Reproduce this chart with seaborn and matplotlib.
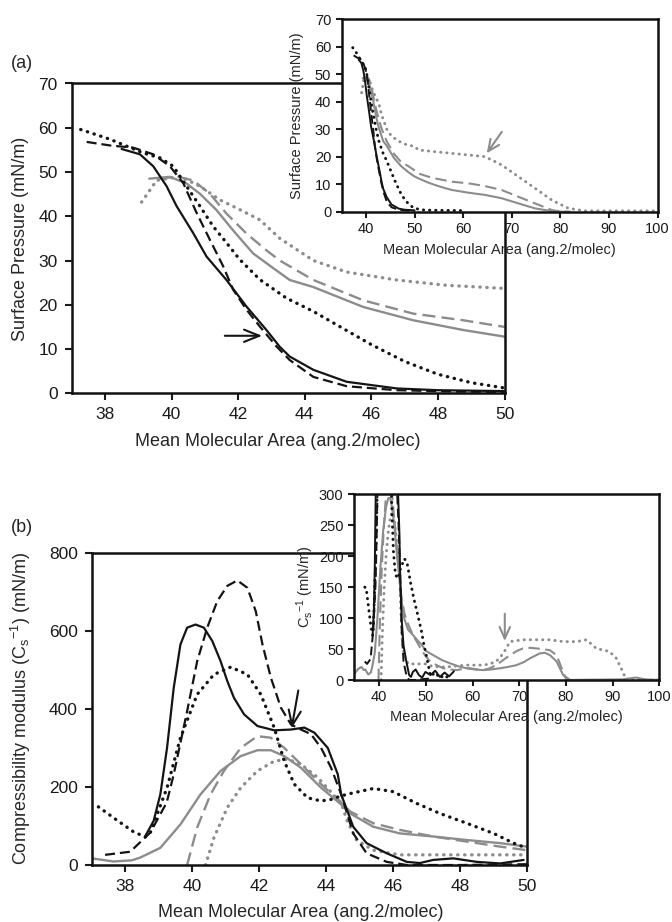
import numpy as np
import pandas as pd
import matplotlib
matplotlib.use("Agg")
import matplotlib.pyplot as plt
import seaborn as sns

# ---------------- Panel (a): surface pressure isotherms (main, 37-50) ----------------
a_bs_x = [38.5, 39.05, 39.45, 39.85, 40.15, 40.65, 41.05, 41.65, 42.25, 42.85, 43.25, 43.55, 44.26, 45.26, 46.76, 48.0, 50.0]
a_bs_y = [55.2, 54.0, 51.3, 46.8, 42.3, 36.2, 30.9, 25.6, 19.6, 14.3, 10.5, 8.3, 5.3, 2.6, 1.1, 0.7, 0.5]
a_bd_x = [37.45, 38.15, 38.85, 39.45, 39.95, 40.35, 40.75, 41.15, 41.55, 41.85, 42.25, 42.65, 43.15, 43.55, 44.26, 45.26, 46.76, 48.5, 50.0]
a_bd_y = [56.8, 56.0, 55.5, 54.0, 51.3, 47.5, 40.8, 34.7, 28.7, 23.4, 18.9, 15.1, 10.6, 7.5, 3.7, 1.6, 0.7, 0.4, 0.3]
a_bo_x = [37.27, 38.15, 39.15, 39.65, 40.05, 40.45, 40.85, 41.25, 41.65, 42.05, 42.65, 43.45, 44.26, 45.0, 46.0, 47.0, 48.0, 49.0, 50.0]
a_bo_y = [59.6, 57.4, 54.3, 53.2, 51.3, 46.8, 42.3, 37.7, 34.0, 30.2, 25.7, 21.5, 18.5, 15.3, 11.0, 7.2, 4.3, 2.4, 1.2]
a_gs_x = [39.33, 39.95, 40.45, 40.85, 41.35, 41.85, 42.45, 43.05, 43.55, 44.26, 45.76, 47.26, 48.76, 50.0]
a_gs_y = [48.5, 48.9, 47.4, 45.1, 41.4, 36.8, 31.6, 28.3, 25.6, 24.0, 19.5, 16.5, 14.3, 12.8]
a_gd_x = [39.65, 40.15, 40.65, 41.15, 41.65, 42.25, 42.85, 43.25, 44.26, 45.76, 47.26, 48.76, 50.0]
a_gd_y = [48.5, 49.0, 48.1, 45.1, 40.6, 36.1, 32.3, 30.0, 25.6, 21.0, 18.0, 16.5, 15.0]
a_go_x = [39.1, 39.55, 40.25, 40.85, 41.45, 42.05, 42.65, 43.25, 44.26, 45.26, 46.76, 48.26, 50.0]
a_go_y = [43.2, 48.1, 49.0, 46.8, 43.7, 41.5, 39.2, 35.0, 30.0, 27.4, 25.6, 24.4, 23.7]

# inset (a): continuation of the same isotherms beyond 50
ia_bo_ext_x = [52.0, 55.0, 60.0]
ia_bo_ext_y = [0.6, 0.5, 0.4]
ia_gs_ext_x = [50.8, 52.5, 54.2, 56.0, 57.65, 61.1, 64.5, 67.9, 71.4, 74.8, 78.25, 80.0, 82.0]
ia_gs_ext_y = [12.1, 10.8, 9.7, 8.7, 7.9, 6.9, 6.1, 4.9, 3.0, 1.2, 0.2, 0.0, 0.0]
ia_gd_ext_x = [50.8, 52.5, 54.2, 57.65, 61.1, 64.5, 67.9, 71.4, 74.8, 78.25, 80.3, 82.0]
ia_gd_ext_y = [13.9, 12.9, 12.1, 10.9, 10.3, 9.3, 7.9, 5.4, 3.0, 0.6, 0.0, 0.0]
ia_go_ext_x = [50.8, 54.2, 57.65, 61.1, 64.5, 67.9, 71.4, 74.8, 78.25, 81.7, 85.1, 90.0, 100.0]
ia_go_ext_y = [22.4, 21.8, 21.2, 20.6, 20.0, 17.0, 12.7, 8.5, 4.2, 1.2, 0.3, 0.3, 0.3]

# ---------------- Panel (b): compressibility modulus (main, 37-50) ----------------
b_bs_x = [38.6, 38.85, 39.05, 39.25, 39.45, 39.65, 39.85, 40.1, 40.35, 40.6, 40.85, 41.05, 41.25, 41.55, 41.95,
          42.45, 42.95, 43.35, 43.65, 44.05, 44.35, 44.45, 44.81, 45.21, 45.81, 46.41, 46.8, 47.2, 47.8, 48.5, 49.2, 49.9]
b_bs_y = [74, 113, 181, 300, 454, 565, 608, 616, 608, 574, 522, 471, 428, 386, 356,
          345, 347, 352, 339, 300, 232, 181, 98, 56, 30, 8, 5, 13, 17, 8, 4, 13]
b_bd_x = [37.4, 38.15, 38.75, 39.24, 39.45, 39.85, 40.15, 40.45, 40.75, 41.05, 41.35, 41.65, 41.9, 42.1, 42.35,
          42.65, 42.95, 43.25, 43.55, 43.85, 44.15, 44.45, 44.81, 45.21, 45.81, 46.41, 48.0, 50.0]
b_bd_y = [26, 34, 83, 160, 232, 394, 522, 608, 676, 715, 729, 710, 650, 565, 480,
          403, 360, 347, 335, 300, 249, 181, 81, 30, 8, 0, 0, 2]
b_bo_x = [37.2, 37.75, 38.25, 38.6, 38.75, 39.25, 39.65, 40.15, 40.65, 41.15, 41.65, 42.05, 42.45, 42.75, 43.05,
          43.45, 43.85, 44.15, 44.45, 44.72, 45.41, 46.0, 46.7, 47.4, 48.2, 49.0, 49.6, 50.0]
b_bo_y = [149, 115, 85, 72, 83, 198, 326, 437, 488, 507, 488, 437, 352, 266, 207,
          172, 164, 168, 177, 183, 196, 188, 158, 132, 107, 81, 56, 43]
b_gs_x = [37.0, 37.65, 38.2, 38.45, 39.05, 39.65, 40.25, 40.85, 41.45, 41.95, 42.35, 42.75, 43.25, 43.85, 44.45,
          44.72, 45.41, 46.2, 47.2, 48.2, 49.2, 50.0]
b_gs_y = [17, 9, 12, 19, 44, 104, 181, 241, 279, 294, 294, 279, 249, 198, 155,
          132, 98, 81, 73, 64, 56, 47]
b_gd_x = [39.85, 40.15, 40.55, 40.95, 41.45, 41.95, 42.35, 42.75, 43.25, 43.85, 44.45, 44.72, 45.41, 46.2, 47.2,
          48.2, 49.2, 50.0]
b_gd_y = [0, 96, 181, 241, 300, 330, 326, 300, 258, 207, 160, 137, 107, 90, 73,
          60, 47, 38]
b_go_x = [40.4, 40.65, 41.05, 41.45, 41.95, 42.45, 42.85, 43.25, 43.75, 44.22, 44.45, 44.62, 44.91, 45.41, 46.2,
          47.2, 48.2, 50.0]
b_go_y = [0, 70, 147, 198, 241, 266, 271, 258, 224, 180, 160, 115, 64, 38, 26,
          26, 26, 26]

# inset (b): start and continuation of the same curves
ib_bo_pre_x = [36.9]
ib_bo_pre_y = [150]
ib_bd_pre_x = [36.9]
ib_bd_pre_y = [30]
ib_gs_pre_x = [34.7, 35.5, 36.2, 36.7]
ib_gs_pre_y = [10, 18, 21, 16]
ib_bs_ext_x = [51.0, 52.0, 53.0, 54.0, 55.0, 56.0]
ib_bs_ext_y = [8, 15, 5, 12, 6, 14]
ib_bd_ext_x = [50.5, 51.5]
ib_bd_ext_y = [2, 0]
ib_bo_ext_x = [51.0, 52.0, 53.0, 54.0, 55.0]
ib_bo_ext_y = [6, 12, 3, 8, 2]
ib_gs_ext_x = [51.6, 53.5, 55.15, 57.0, 58.7, 60.5, 62.3, 64.0, 65.9, 67.5, 69.4, 71.0, 72.3, 74.4, 75.5, 76.6, 78.0,
               79.4, 80.9, 85.0, 92.0, 95.0, 97.0, 100.0]
ib_gs_ext_y = [40, 32, 27, 22, 19, 17, 16, 17, 19, 21, 24, 29, 35, 43, 44, 40, 30,
               8, 0, 0.5, 1, 4, 1, 0]
ib_gd_ext_x = [50.9, 52.3, 53.7, 55.0, 56.6, 58.0, 59.4, 61.0, 62.3, 63.7, 65.1, 66.5, 68.0, 69.5, 70.8, 72.3, 73.7,
               75.0, 76.6, 78.0, 79.4, 80.1, 82.0]
ib_gd_ext_y = [30, 24, 19, 17, 16, 18, 19, 17, 16, 19, 24, 32, 40, 47, 51, 52, 51,
               50, 48, 40, 13, 0, 0]
ib_go_ext_x = [51.6, 53.5, 55.15, 57.0, 58.7, 60.5, 62.3, 63.7, 65.1, 66.6, 68.0, 70.8, 73.7, 76.6, 79.4, 82.3, 84.4,
               86.5, 89.3, 90.8, 92.2, 92.9, 100.0]
ib_go_ext_y = [21.5, 21, 21.5, 23, 24, 24, 24, 26, 30, 43, 62, 65, 65, 65, 62, 62, 65,
               51, 46, 35, 13, 0, 0]

# axis ticks / labels
a_xticks = [38, 40, 42, 44, 46, 48, 50]
a_yticks = [0, 10, 20, 30, 40, 50, 60, 70]
b_yticks = [0, 200, 400, 600, 800]
ins_xticks = [40, 50, 60, 70, 80, 90, 100]
ib_yticks = [0, 50, 100, 150, 200, 250, 300]
xlabel_txt = "Mean Molecular Area (ang.2/molec)"

# ---------------- styling ----------------
sns.set_theme(style="ticks")
plt.rcParams['font.family'] = ['Liberation Sans', 'DejaVu Sans']
plt.rcParams['mathtext.fontset'] = 'custom'
plt.rcParams['mathtext.rm'] = 'Liberation Sans'
plt.rcParams['mathtext.it'] = 'Liberation Sans:italic'
plt.rcParams['axes.linewidth'] = 1.8

BLACK = '#141414'
GREY = '#8c8c8c'


def style(kind, small=False):
    f = 0.88 if small else 1.0
    if kind == 'bs':
        return dict(color=BLACK, linestyle='-', linewidth=1.6 * f)
    if kind == 'bd':
        return dict(color=BLACK, linestyle=(0, (4.5, 2.2)), linewidth=1.6 * f)
    if kind == 'bo':
        return dict(color=BLACK, linestyle=(0, (0.1, 2.0)), linewidth=2.4 * f, dash_capstyle='round')
    if kind == 'gs':
        return dict(color=GREY, linestyle='-', linewidth=1.7 * f)
    if kind == 'gd':
        return dict(color=GREY, linestyle=(0, (5.5, 2.6)), linewidth=1.7 * f)
    if kind == 'go':
        return dict(color=GREY, linestyle=(0, (0.1, 2.0)), linewidth=2.4 * f, dash_capstyle='round')


def draw(ax, series, small=False):
    for kind, (xs, ys) in series:
        df = pd.DataFrame({'area': xs, 'value': ys})
        sns.lineplot(data=df, x='area', y='value', ax=ax, estimator=None, sort=False,
                     legend=False, **style(kind, small))


def frame(ax, xlim, ylim, xticks, yticks, fs, tl, pad):
    ax.set_xlim(*xlim)
    ax.set_ylim(*ylim)
    ax.set_xticks(xticks)
    ax.set_yticks(yticks)
    ax.tick_params(direction='out', length=tl, width=1.5, labelsize=fs, pad=pad, colors='#1a1a1a')
    for s in ax.spines.values():
        s.set_visible(True)
        s.set_linewidth(1.8)
        s.set_color('#111111')
    ax.grid(False)
    ax.set_facecolor('white')


W, H = 672, 922
fig = plt.figure(figsize=(W / 100, H / 100), dpi=100)
fig.patch.set_facecolor('white')


def rect(l, r, t, b):
    return [l / W, 1 - b / H, (r - l) / W, (b - t) / H]


axA = fig.add_axes(rect(71.7, 504.5, 83.5, 393.3))
axAi = fig.add_axes(rect(341.7, 657.5, 19.0, 211.7))
axB = fig.add_axes(rect(91.7, 527.0, 552.7, 865.0))
axBi = fig.add_axes(rect(354.0, 659.3, 494.3, 680.0))

# panel (a) main
draw(axA, [('gs', (a_gs_x, a_gs_y)), ('gd', (a_gd_x, a_gd_y)), ('go', (a_go_x, a_go_y)),
           ('bo', (a_bo_x, a_bo_y)), ('bd', (a_bd_x, a_bd_y)), ('bs', (a_bs_x, a_bs_y))])
frame(axA, (37, 50), (0, 70), a_xticks, a_yticks, 12.5, 5, 5)
axA.set_xlabel(xlabel_txt, fontsize=13)
axA.set_ylabel("Surface Pressure (mN/m)", fontsize=13)
axA.xaxis.set_label_coords(0.475, -0.128)
axA.yaxis.set_label_coords(-0.098, 0.5)
axA.annotate('', xy=(42.72, 13), xytext=(41.6, 13),
             arrowprops=dict(arrowstyle='->,head_length=0.55,head_width=0.22', color=BLACK, lw=1.5,
                             mutation_scale=20, shrinkA=0, shrinkB=0))

# panel (a) inset
draw(axAi, [('gs', (a_gs_x + ia_gs_ext_x, a_gs_y + ia_gs_ext_y)),
            ('gd', (a_gd_x + ia_gd_ext_x, a_gd_y + ia_gd_ext_y)),
            ('go', (a_go_x + ia_go_ext_x, a_go_y + ia_go_ext_y)),
            ('bo', (a_bo_x + ia_bo_ext_x, a_bo_y + ia_bo_ext_y)),
            ('bd', (a_bd_x, a_bd_y)), ('bs', (a_bs_x, a_bs_y))], small=True)
frame(axAi, (35, 100), (0, 70), ins_xticks, a_yticks, 10.5, 4, 3.5)
axAi.set_xlabel(xlabel_txt, fontsize=10.5)
axAi.set_ylabel("Surface Pressure (mN/m)", fontsize=10.5)
axAi.xaxis.set_label_coords(0.5, -0.165)
axAi.yaxis.set_label_coords(-0.118, 0.5)
axAi.annotate('', xy=(64.86, 21.2), xytext=(67.95, 29.0),
              arrowprops=dict(arrowstyle='->,head_length=0.55,head_width=0.25', color=GREY, lw=1.5,
                              mutation_scale=15, shrinkA=0, shrinkB=0))

# panel (b) main
draw(axB, [('gs', (b_gs_x, b_gs_y)), ('gd', (b_gd_x, b_gd_y)), ('go', (b_go_x, b_go_y)),
           ('bo', (b_bo_x, b_bo_y)), ('bd', (b_bd_x, b_bd_y)), ('bs', (b_bs_x, b_bs_y))])
frame(axB, (37, 50), (0, 800), a_xticks, b_yticks, 12.5, 5, 5)
axB.set_xlabel(xlabel_txt, fontsize=13)
axB.set_ylabel(r"Compressibility modulus (C$_\mathregular{s}$$^\mathregular{-1}$) (mN/m)", fontsize=13)
axB.xaxis.set_label_coords(0.48, -0.125)
axB.yaxis.set_label_coords(-0.135, 0.5)
axB.annotate('', xy=(42.97, 350), xytext=(43.17, 447),
             arrowprops=dict(arrowstyle='->,head_length=0.55,head_width=0.22', color=BLACK, lw=1.5,
                             mutation_scale=20, shrinkA=0, shrinkB=0))

# panel (b) inset
draw(axBi, [('gs', (ib_gs_pre_x + b_gs_x + ib_gs_ext_x, ib_gs_pre_y + b_gs_y + ib_gs_ext_y)),
            ('gd', (b_gd_x + ib_gd_ext_x, b_gd_y + ib_gd_ext_y)),
            ('go', (b_go_x + ib_go_ext_x, b_go_y + ib_go_ext_y)),
            ('bo', (ib_bo_pre_x + b_bo_x + ib_bo_ext_x, ib_bo_pre_y + b_bo_y + ib_bo_ext_y)),
            ('bd', (ib_bd_pre_x + b_bd_x + ib_bd_ext_x, ib_bd_pre_y + b_bd_y + ib_bd_ext_y)),
            ('bs', (b_bs_x + ib_bs_ext_x, b_bs_y + ib_bs_ext_y))], small=True)
frame(axBi, (34.6, 100), (0, 300), ins_xticks, ib_yticks, 10.5, 4, 3.5)
axBi.set_xlabel(xlabel_txt, fontsize=10.5)
axBi.set_ylabel(r"C$_\mathregular{s}$$^\mathregular{-1}$ (mN/m)", fontsize=10.5)
axBi.xaxis.set_label_coords(0.5, -0.16)
axBi.yaxis.set_label_coords(-0.125, 0.5)
axBi.annotate('', xy=(66.9, 63), xytext=(66.9, 107),
              arrowprops=dict(arrowstyle='->,head_length=0.55,head_width=0.25', color=GREY, lw=1.5,
                              mutation_scale=15, shrinkA=0, shrinkB=0))

# panel letters
fig.text(11 / W, 1 - 63 / H, "(a)", fontsize=13, va='center', ha='left')
fig.text(11 / W, 1 - 527 / H, "(b)", fontsize=13, va='center', ha='left')

fig.savefig("out.png", dpi=100, facecolor='white')
